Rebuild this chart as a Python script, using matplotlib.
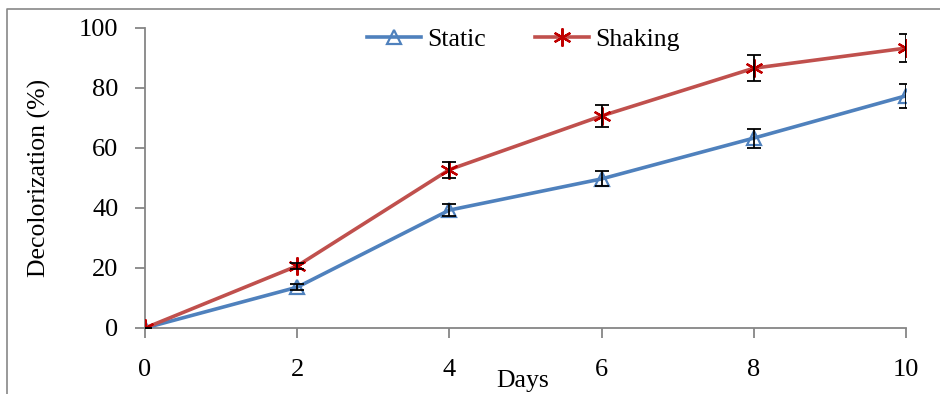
import matplotlib.pyplot as plt
from matplotlib.lines import Line2D

days = [0, 2, 4, 6, 8, 10]
static = [0, 13.6, 39.3, 49.7, 63.3, 77.4]
static_err = [0, 1.0, 2.0, 2.5, 3.2, 3.9]
shaking = [0, 20.7, 52.8, 70.7, 86.6, 93.3]
shaking_err = [0, 1.0, 2.7, 3.6, 4.4, 4.7]

plt.rcParams['font.family'] = ['Liberation Serif', 'DejaVu Serif']

fig = plt.figure(figsize=(9.4, 3.94), dpi=100)
ax = fig.add_axes([145 / 940, 66 / 394, 761 / 940, 300 / 394])

BLUE = '#4F81BD'
RED = '#C0504D'
GREY = '#868686'

ax.plot(days, static, color=BLUE, lw=2.6, marker='^', ms=10, mfc='none',
        mec=BLUE, mew=1.6, zorder=3, label='Static')
ax.plot(days, shaking, color=RED, lw=2.6, marker=(6, 2, 0), ms=13,
        mec='#C00000', mew=1.6, zorder=3, label='Shaking')
ax.errorbar(days, static, yerr=static_err, fmt='none', ecolor='black',
            elinewidth=1.3, capsize=5, capthick=1.3, zorder=4)
ax.errorbar(days, shaking, yerr=shaking_err, fmt='none', ecolor='black',
            elinewidth=1.3, capsize=5, capthick=1.3, zorder=4)

ax.set_xlim(0, 10)
ax.set_ylim(0, 100)
ax.set_xticks(days)
ax.set_yticks(range(0, 101, 20))
for s in ['top', 'right']:
    ax.spines[s].set_visible(False)
for s in ['left', 'bottom']:
    ax.spines[s].set_color(GREY)
    ax.spines[s].set_linewidth(1.3)
ax.tick_params(axis='y', direction='out', length=7, width=1.3, color=GREY,
               labelsize=19, pad=12)
ax.tick_params(axis='x', direction='out', length=7, width=1.3, color=GREY,
               labelsize=19, pad=15)

ax.set_ylabel('Decolorization (%)', fontsize=18.5, labelpad=20)
fig.text(523 / 940, 1 - 381 / 394, 'Days', fontsize=18.5, ha='center', va='center')

handles = [Line2D([], [], color=BLUE, lw=2.6, marker='^', ms=10, mfc='none', mec=BLUE, mew=1.6),
           Line2D([], [], color=RED, lw=2.6, marker=(6, 2, 0), ms=13, mec='#C00000', mew=1.6)]
ax.legend(handles, ['Static', 'Shaking'], loc='upper center', bbox_to_anchor=(0.497, 1.077),
          ncol=2, frameon=False, fontsize=18.5, handlelength=2.1, handletextpad=0.25,
          columnspacing=1.9)

# outer chart frame (only top and left visible in the crop)
fig.add_artist(Line2D([7 / 940, 7 / 940, 1.0], [0, 1 - 9 / 394, 1 - 9 / 394],
                      color='#878787', lw=1.2, transform=fig.transFigure))

fig.savefig('out.png', dpi=100)
